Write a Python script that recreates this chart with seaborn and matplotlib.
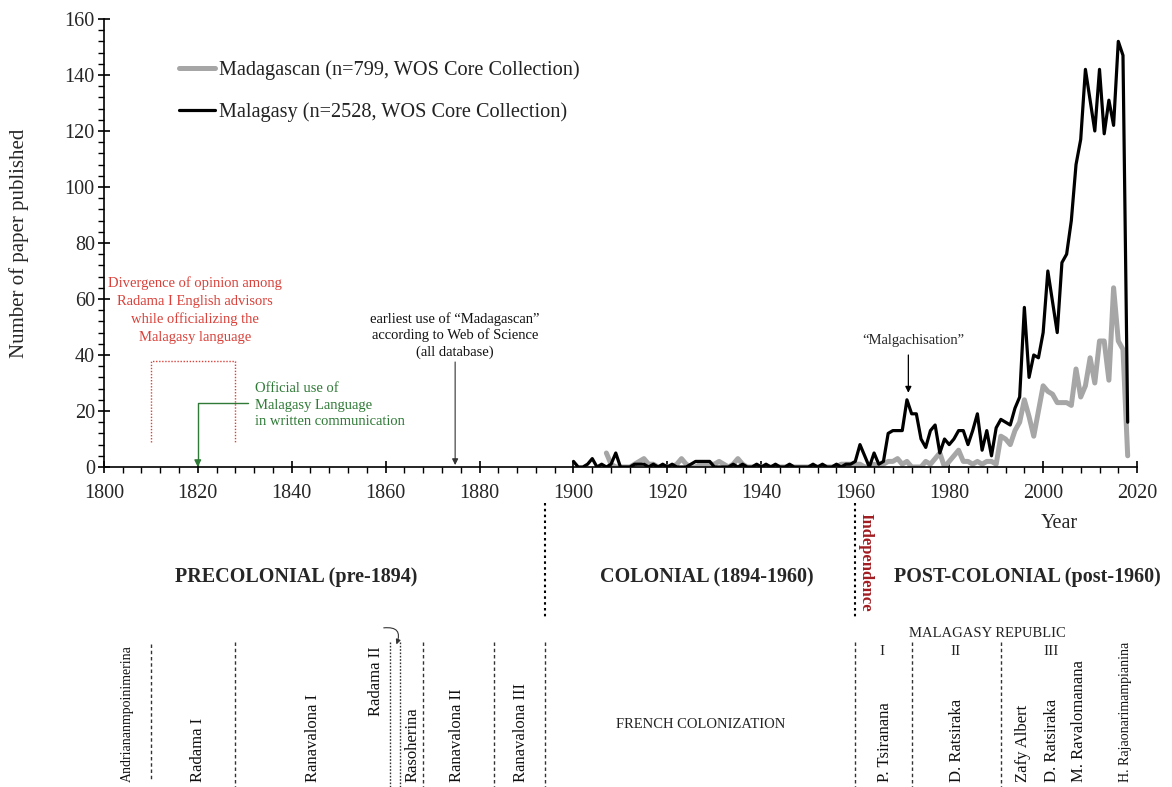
import matplotlib
matplotlib.use("Agg")
import matplotlib.pyplot as plt
from matplotlib.ticker import AutoMinorLocator, MultipleLocator
import numpy as np
import pandas as pd
import seaborn as sns

sns.set_style("ticks")
plt.rcParams["font.family"] = ["Liberation Serif", "DejaVu Serif"]

# ---- data ----
malagasy_years = list(range(1900, 2019))
malagasy_counts = [
    2, 0, 0, 1, 3, 0, 1, 0, 1, 5,          # 1900s
    0, 0, 0, 1, 1, 1, 0, 1, 0, 1,          # 1910s
    0, 1, 0, 0, 0, 1, 2, 2, 2, 2,          # 1920s
    0, 0, 0, 0, 1, 0, 1, 0, 0, 1,          # 1930s
    0, 1, 0, 1, 0, 0, 1, 0, 0, 0,          # 1940s
    0, 1, 0, 1, 0, 0, 1, 0, 1, 1,          # 1950s
    2, 8, 4, 0, 5, 1, 2, 12, 13, 13,       # 1960s
    13, 24, 19, 19, 10, 7, 13, 15, 5, 10,  # 1970s
    8, 10, 13, 13, 8, 13, 19, 6, 13, 4,    # 1980s
    14, 17, 16, 15, 21, 25, 57, 32, 40, 39,  # 1990s
    48, 70, 59, 48, 73, 76, 88, 108, 117, 142,  # 2000s
    131, 120, 142, 119, 131, 122, 152, 147, 16,  # 2010-2018
]

madagascan_years = list(range(1907, 2019))
madagascan_counts = [
    5, 1, 0,                               # 1907-1909
    0, 0, 0, 1, 2, 3, 1, 1, 0, 0,          # 1910s
    0, 0, 1, 3, 1, 0, 0, 1, 1, 1,          # 1920s
    1, 2, 1, 0, 1, 3, 1, 0, 0, 0,          # 1930s
    0, 0, 0, 0, 0, 0, 0, 0, 0, 0,          # 1940s
    0, 0, 0, 0, 0, 0, 0, 1, 1, 1,          # 1950s
    1, 1, 0, 0, 1, 0, 1, 2, 2, 3,          # 1960s
    1, 2, 0, 0, 0, 2, 1, 3, 5, 0,          # 1970s
    2, 4, 6, 2, 2, 1, 2, 1, 2, 2,          # 1980s
    1, 11, 10, 8, 13, 16, 24, 18, 11, 20,  # 1990s
    29, 27, 26, 23, 23, 23, 22, 35, 25, 29,  # 2000s
    39, 30, 45, 45, 31, 64, 45, 42, 4,     # 2010-2018
]

legend_labels = [
    "Madagascan (n=799, WOS Core Collection)",
    "Malagasy (n=2528, WOS Core Collection)",
]

periods = ["PRECOLONIAL (pre-1894)", "COLONIAL (1894-1960)", "POST-COLONIAL (post-1960)"]
period_x = [1841.0, 1928.3, 1996.6]
period_bounds = [1894, 1960]

rulers = [
    "Andriananmpoinimerina", "Radama I", "Ranavalona I", "Radama II",
    "Rasoherina", "Ranavalona II", "Ranavalona III", "P. Tsiranana",
    "D. Ratsiraka", "Zafy Albert", "D. Ratsiraka", "M. Ravalomanana",
    "H. Rajaonarimampianina",
]
ruler_x = [1805.0, 1820.0, 1844.5, 1858.0, 1865.8, 1875.2, 1888.9,
           1966.4, 1981.7, 1995.8, 2001.8, 2007.7, 2017.5]
reign_bounds = [1810, 1828, 1861, 1863, 1868, 1883, 1894, 1960, 1972, 1991]
republics = ["I", "II", "III"]
republic_x = [1965.7, 1981.4, 2001.6]

df_mg = pd.DataFrame({"year": madagascan_years, "count": madagascan_counts})
df_ml = pd.DataFrame({"year": malagasy_years, "count": malagasy_counts})

# ---- figure ----
fig = plt.figure(figsize=(11.72, 7.87), dpi=100)
ax = fig.add_axes([0.0886, 0.4066, 0.8816, 0.5693])

sns.lineplot(data=df_mg, x="year", y="count", ax=ax, color="#a6a6a6",
             linewidth=3.6, label=legend_labels[0])
sns.lineplot(data=df_ml, x="year", y="count", ax=ax, color="black",
             linewidth=2.3, label=legend_labels[1])

ax.set_xlim(1800, 2020)
ax.set_ylim(0, 160)
ax.xaxis.set_major_locator(MultipleLocator(20))
ax.yaxis.set_major_locator(MultipleLocator(20))
ax.xaxis.set_minor_locator(AutoMinorLocator(5))
ax.yaxis.set_minor_locator(AutoMinorLocator(5))
ax.tick_params(which="major", direction="inout", length=9, width=1.2,
               labelsize=14.5, color="black")
ax.tick_params(which="minor", direction="out", length=4, width=1.0, color="black")
ax.tick_params(axis="x", which="major", pad=8)
ax.tick_params(axis="y", which="major", pad=2)
for side in ["top", "right"]:
    ax.spines[side].set_visible(False)
for side in ["left", "bottom"]:
    ax.spines[side].set_linewidth(1.2)
    ax.spines[side].set_color("black")

ax.set_ylabel("Number of paper published", fontsize=15)
ax.yaxis.set_label_coords(-0.072, 0.5)
ax.set_xlabel("Year", fontsize=14.5)
ax.xaxis.set_label_coords(0.925, -0.104)

leg = ax.legend(loc="upper left", bbox_to_anchor=(0.0625, 0.93),
                frameon=False, fontsize=14.6, handlelength=1.8,
                handletextpad=0.2, labelspacing=1.08, borderpad=0)
for t in leg.get_texts():
    t.set_color("#222222")

# ---- annotations inside the plot ----
red = "#d9413a"
green = "#2f7a36"
ax.text(1819.4, 56, "Divergence of opinion among\nRadama I English advisors\n"
        "while officializing the\nMalagasy language", color=red, fontsize=10.5,
        ha="center", va="center", linespacing=1.45)
ax.plot([1810, 1810, 1828, 1828], [9.0, 38.0, 38.0, 9.0], color=red,
        linestyle=(0, (1, 1.2)), linewidth=1.0)

ax.text(1832.2, 22.0, "Official use of\nMalagasy Language\nin written communication",
        color=green, fontsize=10.5, ha="left", va="center", linespacing=1.35)
ax.annotate("", xy=(1820, 0), xytext=(1830.8, 22.7),
            arrowprops=dict(arrowstyle="-|>", color=green, lw=1.0,
                            shrinkA=0, shrinkB=0, mutation_scale=10,
                            connectionstyle="angle,angleA=0,angleB=90,rad=0"))

ax.text(1874.8, 47, "earliest use of \u201cMadagascan\u201d\naccording to Web of Science\n(all database)",
        color="#111111", fontsize=10.5, ha="center", va="center", linespacing=1.25)
ax.annotate("", xy=(1874.8, 0.7), xytext=(1874.8, 37.5),
            arrowprops=dict(arrowstyle="-|>", color="#333333", lw=0.8,
                            shrinkA=0, shrinkB=0, mutation_scale=9))

ax.text(1972.4, 45, "\u201cMalgachisation\u201d", fontsize=10.5, ha="center", va="center")
ax.annotate("", xy=(1971.3, 26.5), xytext=(1971.3, 40),
            arrowprops=dict(arrowstyle="-|>", color="black", lw=0.9,
                            shrinkA=0, shrinkB=0, mutation_scale=9))

# ---- timeline below the axis ----
trans = ax.get_xaxis_transform()
for xb in period_bounds:
    ax.plot([xb, xb], [-0.08, -0.337], transform=trans, clip_on=False,
            color="black", linestyle=(0, (1.2, 1.6)), linewidth=1.5)
for name, xp in zip(periods, period_x):
    ax.text(xp, -0.246, name, transform=trans, fontsize=14.5, fontweight="bold",
            ha="center", va="center")
ax.text(1962.2, -0.212, "Independence", transform=trans, fontsize=12,
        fontweight="bold", color="#a11d22", rotation=-90, ha="center", va="center")

for xb in reign_bounds:
    top = -0.39 if xb != 1810 else -0.394
    bottom = -0.714 if xb != 1810 else -0.70
    ls = (0, (1.2, 1.2)) if xb in (1861, 1863) else (0, (2.5, 2))
    ax.plot([xb, xb], [top, bottom], transform=trans, clip_on=False,
            color="#333333", linestyle=ls, linewidth=1.0)

for name, xp in zip(rulers, ruler_x):
    size = 10 if name in ("Andriananmpoinimerina", "H. Rajaonarimampianina") else 12
    ybot = -0.555 if name == "Radama II" else -0.703
    ax.text(xp, ybot, name, transform=trans, fontsize=size, rotation=90,
            ha="center", va="bottom", color="#111111")

ax.annotate("", xy=(1862.3, -0.396), xytext=(1859.6, -0.359),
            xycoords=trans, textcoords=trans,
            arrowprops=dict(arrowstyle="-|>", color="#333333", lw=0.8,
                            shrinkA=0, shrinkB=0, mutation_scale=7,
                            connectionstyle="arc3,rad=-0.8"))

ax.text(1927.0, -0.575, "FRENCH COLONIZATION", transform=trans, fontsize=10.5,
        ha="center", va="center", color="#222222")
ax.text(1988.1, -0.371, "MALAGASY REPUBLIC", transform=trans, fontsize=10.5,
        ha="center", va="center", color="#222222")
for name, xp in zip(republics, republic_x):
    ax.text(xp, -0.412, name, transform=trans, fontsize=11, ha="center",
            va="center", color="#222222")

fig.savefig("out.png", dpi=100)
